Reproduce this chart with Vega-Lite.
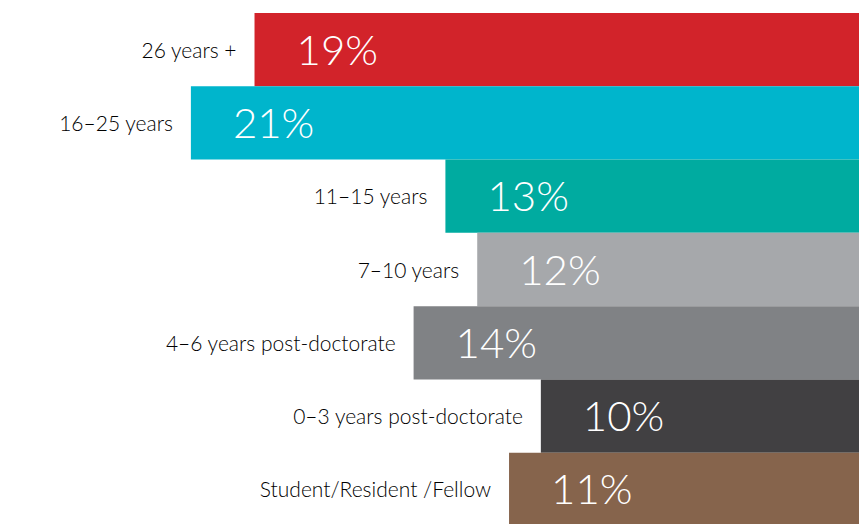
{
  "$schema": "https://vega.github.io/schema/vega-lite/v6.json",
  "width": 859,
  "height": 513,
  "autosize": {"type": "none"},
  "padding": {"top": 13, "left": 0, "right": 0, "bottom": 0},
  "background": "white",
  "config": {"view": {"stroke": null}},
  "data": {
    "values": [
      {"group": "26 years +", "pct": 19, "color": "#d2232a"},
      {"group": "16–25 years", "pct": 21, "color": "#00b5cc"},
      {"group": "11–15 years", "pct": 13, "color": "#00aba0"},
      {"group": "7–10 years", "pct": 12, "color": "#a6a8ab"},
      {"group": "4–6 years post-doctorate", "pct": 14, "color": "#808285"},
      {"group": "0–3 years post-doctorate", "pct": 10, "color": "#414042"},
      {"group": "Student/Resident /Fellow", "pct": 11, "color": "#86644c"}
    ]
  },
  "encoding": {
    "y": {"field": "group", "type": "nominal", "sort": null, "axis": null,
          "scale": {"paddingInner": 0, "paddingOuter": 0}},
    "x": {"field": "pct", "type": "quantitative", "axis": null,
          "scale": {"domain": [0, 27], "reverse": true, "nice": false, "zero": true}}
  },
  "layer": [
    {
      "mark": {"type": "bar"},
      "encoding": {
        "color": {"field": "color", "type": "nominal", "scale": null, "legend": null}
      }
    },
    {
      "mark": {"type": "text", "align": "right", "baseline": "middle", "dx": -18, "dy": 2,
               "font": "Lato", "fontWeight": 300, "fontSize": 21, "color": "#000000"},
      "encoding": {"text": {"field": "group"}}
    },
    {
      "mark": {"type": "text", "align": "left", "baseline": "middle", "dx": 42, "dy": 2,
               "font": "Lato", "fontWeight": 300, "fontSize": 42, "color": "white",
               "text": {"expr": "datum.pct + '%'"}},
      "encoding": {}
    }
  ]
}
